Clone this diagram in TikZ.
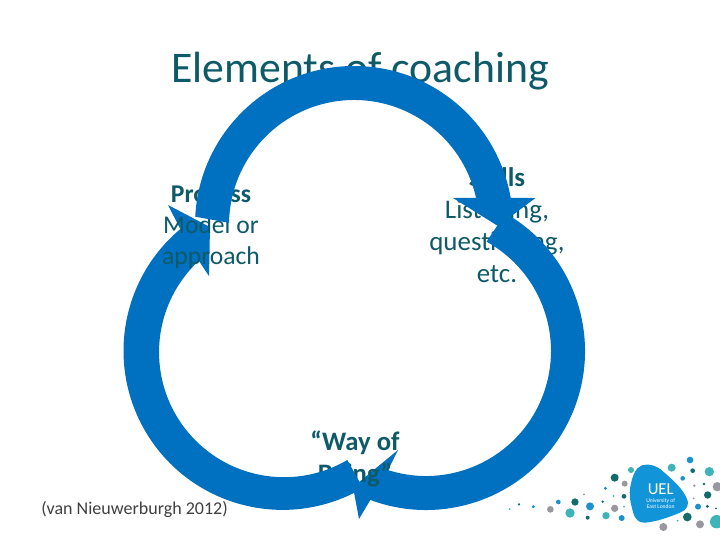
\documentclass[tikz,border=0pt]{standalone}
\usepackage{fontspec}
\setmainfont{Carlito}
\definecolor{arrowblue}{HTML}{0070C0}
\definecolor{tealtext}{HTML}{0F5A69}
\definecolor{logoblue}{HTML}{1295D8}
\definecolor{dotblue}{HTML}{1C92CC}
\definecolor{dotdark}{HTML}{136B6B}
\definecolor{dotteal}{HTML}{3CB4B8}
\definecolor{dotgray}{HTML}{98989E}
\tikzset{
  cyclearrow/.style={fill=arrowblue,draw=none},
  bodylabel/.style={text=tealtext,font=\fontsize{19.2pt}{23.3pt}\selectfont,align=center,inner sep=0pt},
  widelabel/.style={text=tealtext,font=\fontsize{20.2pt}{24pt}\selectfont,align=center,inner sep=0pt},
  dotb/.style={fill=dotblue,draw=none},
  dotd/.style={fill=dotdark,draw=none},
  dott/.style={fill=dotteal,draw=none},
  dotg/.style={fill=dotgray,draw=none}
}
\begin{document}
\begin{tikzpicture}[x=.75pt,y=.75pt]
\useasboundingbox (0,-540) rectangle (720,0);
\fill[white] (0,-540) rectangle (720,0);
% title
\node[text=tealtext,font=\fontsize{32.8pt}{38pt}\selectfont,anchor=base,inner sep=0pt] (title) at (360,-82) {Elements of coaching};
% skills label under everything
\node[widelabel] (skills) at (497,-225.5) {\textbf{Skills}\\Listening,\\questioning,\\etc.};
% right arrow
\path[cyclearrow] ([shift={(426,-351)}]60:159) arc[start angle=60,end angle=-110.5,radius=159]
  -- (359,-519) -- (353,-487) -- (398,-450) -- ([shift={(426,-351)}]-107.7:125)
  arc[start angle=-107.7,end angle=61,radius=125] -- cycle;
\node[widelabel,font=\fontsize{20pt}{24pt}\selectfont] (being) at (355,-459) {\textbf{“Way of}\\\textbf{Being”}};
% left arrow
\path[cyclearrow] ([shift={(282,-350)}]-59.6:160) arc[start angle=-59.6,end angle=-230,radius=159]
  -- (168,-205) -- (210,-227) -- (209,-276) -- ([shift={(282,-350)}]-227:122)
  arc[start angle=-227,end angle=-59.6,radius=125] -- cycle;
\node[bodylabel] (process) at (211,-227) {\textbf{Process}\\Model or\\approach};
% top arrow
\path[cyclearrow] ([shift={(354,-225)}]177:159) arc[start angle=177,end angle=9.8,radius=159]
  -- (535.5,-198) -- (498,-226) -- (453,-198) -- ([shift={(354,-225)}]12.5:125)
  arc[start angle=12.5,end angle=179,radius=125] -- cycle;
% reference
\node[text=black!75,font=\fontsize{13.5pt}{15pt}\selectfont,anchor=base west,inner sep=0pt] (ref) at (41,-514) {(van Nieuwerburgh 2012)};
% logo
\begin{scope}[shift={(500,-440)},x=.25pt,y=-.25pt]
  \fill[logoblue] (425,76) .. controls (445,70) and (470,76) .. (490,95)
    .. controls (525,125) and (550,150) .. (560,175)
    .. controls (570,195) and (560,210) .. (540,218)
    .. controls (505,232) and (470,245) .. (435,248)
    .. controls (415,250) and (405,235) .. (400,220)
    .. controls (392,190) and (385,165) .. (392,135)
    .. controls (397,110) and (405,85) .. (425,76) -- cycle;
  \foreach \cx/\cy/\cr in {570/60/10,548/115/7,316/145/5,175/186/7,270/199/12,100/200/5,365/234/9,594/200/9}
    \fill[dotb] (\cx,\cy) circle[radius=\cr];
  \foreach \cx/\cy/\cr in {578/92/7,344/113/12,612/132/4,623/165/11,372/169/7,225/186/11,308/185/4,57/193/4,263/233/6,622/199/5,648/205/3,562/231/13}
    \fill[dotd] (\cx,\cy) circle[radius=\cr];
  \foreach \cx/\cy/\cr in {515/83/12,628/95/14,393/90/9,341/168/3,372/200/3,29/207/3,210/219/14,318/227/11,533/242/3,650/245/20}
    \fill[dott] (\cx,\cy) circle[radius=\cr];
  \foreach \cx/\cy/\cr in {374/131/9,652/140/14,583/137/4,252/163/3,344/205/11,151/208/10,581/175/3,490/261/12,600/253/12}
    \fill[dotg] (\cx,\cy) circle[radius=\cr];
  \node[text=white,font=\fontsize{12.5pt}{13pt}\selectfont,inner sep=0pt,anchor=base] (uel) at (482,163) {UEL};
  \node[text=white,font=\fontsize{4.2pt}{4.6pt}\selectfont,align=center,inner sep=0pt] (uelname) at (482,190) {University of\\East London};
\end{scope}
\end{tikzpicture}
\end{document}
